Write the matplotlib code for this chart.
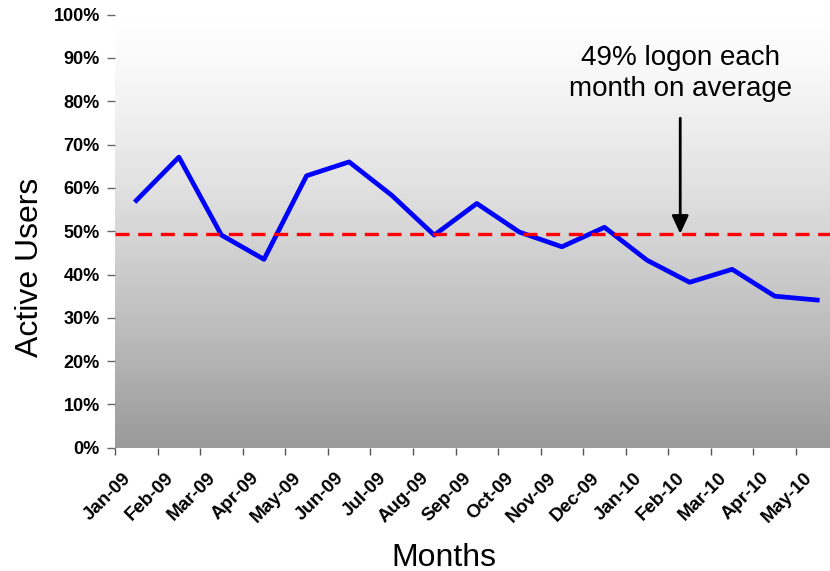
import numpy as np
import matplotlib.pyplot as plt
import matplotlib.transforms as mtransforms
from matplotlib.colors import LinearSegmentedColormap

plt.rcParams['font.family'] = ['Liberation Sans', 'DejaVu Sans']

# monthly share of users who logged on
months = ["Jan-09", "Feb-09", "Mar-09", "Apr-09", "May-09", "Jun-09", "Jul-09",
          "Aug-09", "Sep-09", "Oct-09", "Nov-09", "Dec-09", "Jan-10", "Feb-10",
          "Mar-10", "Apr-10", "May-10"]
active = [0.571, 0.671, 0.491, 0.435, 0.628, 0.660, 0.583, 0.491, 0.564,
          0.498, 0.464, 0.509, 0.433, 0.382, 0.412, 0.350, 0.341]
avg = 0.494
yticks = np.arange(0, 1.01, 0.1)

fig = plt.figure(figsize=(8.3, 5.71), dpi=100)
ax = fig.add_axes([0.1386, 0.2159, 0.8717, 0.7584])

x = np.arange(len(months))
xlo, xhi = -0.5, len(months) - 0.5

# grey gradient plot area, light at the top
grad = np.linspace(0, 1, 256)[:, None] ** 1.3
cmap = LinearSegmentedColormap.from_list("bg", ["#ffffff", "#9a9a9a"])
ax.imshow(grad, extent=[xlo, xhi, 0, 1], origin="upper", aspect="auto",
          cmap=cmap, zorder=0)

ax.plot(x, active, color="#0000ff", lw=3.4, zorder=3)
ax.axhline(avg, color="#ff0000", lw=2.4, dashes=(4.2, 2.6), zorder=4)

ax.annotate("", xy=(12.78, avg), xytext=(12.78, 0.761),
            arrowprops=dict(arrowstyle="-|>,head_length=1.08,head_width=0.5",
                            color="black", lw=2.0, shrinkA=0, shrinkB=0),
            zorder=5)
ax.text(12.78, 0.930, f"{avg:.0%} logon each\nmonth on average",
        ha="center", va="top", fontsize=20, linespacing=1.25, zorder=5)

ax.set_xlim(xlo, xhi)
ax.set_ylim(0, 1)

ax.set_yticks(yticks)
ax.set_yticklabels([f"{v:.0%}" for v in yticks], fontweight="bold", fontsize=13)
ax.tick_params(axis="y", length=6, width=1, color="#666666", pad=5)

ax.set_xticks(np.arange(xlo, xhi - 0.5))
ax.set_xticklabels([])
ax.tick_params(axis="x", which="major", length=5, width=1, color="#555555")
ax.set_xticks(x, minor=True)
ax.set_xticklabels(months, minor=True, rotation=45, ha="right", va="center",
                   rotation_mode="anchor", fontweight="bold", fontsize=13.5)
ax.tick_params(axis="x", which="minor", length=0, pad=20)
shift = mtransforms.ScaledTranslation(-8 / 100, 0, fig.dpi_scale_trans)
for lbl in ax.get_xticklabels(minor=True):
    lbl.set_transform(lbl.get_transform() + shift)

for s in ax.spines.values():
    s.set_visible(False)

fig.text(38.3 / 830, 1 - 267 / 571, "Active Users", rotation=90,
         rotation_mode="anchor", ha="center", va="baseline", fontsize=23)
fig.text(444 / 830, 1 - 565.5 / 571, "Months", ha="center", va="baseline",
         fontsize=23)

fig.savefig("out.png", dpi=100)
